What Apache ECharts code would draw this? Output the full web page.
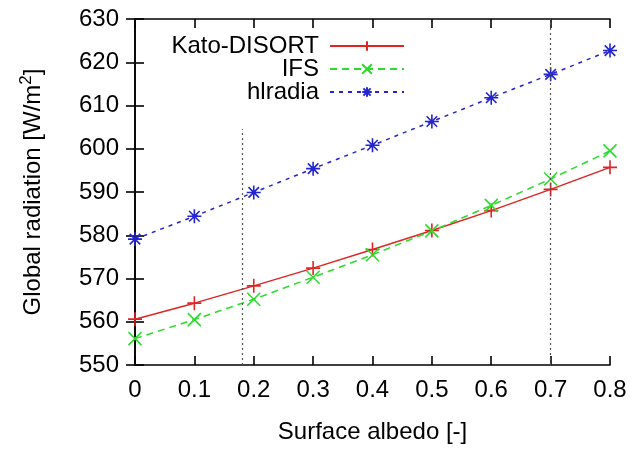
<!DOCTYPE html>
<html>
<head>
<meta charset="utf-8">
<script src="https://cdn.jsdelivr.net/npm/echarts@6/dist/echarts.min.js"></script>
<style>
  html, body { margin: 0; padding: 0; background: #fff; }
  #chart { width: 643px; height: 449px; }
</style>
</head>
<body>
<div id="chart"></div>
<script>
// Surface albedo values (x) and global radiation from three radiative transfer schemes
const albedo = [0, 0.1, 0.2, 0.3, 0.4, 0.5, 0.6, 0.7, 0.8];
const katoDisort = [560.6, 564.3, 568.3, 572.4, 576.7, 581.1, 585.7, 590.6, 595.7];
const ifs = [556.1, 560.5, 565.2, 570.3, 575.5, 581.0, 586.9, 593.0, 599.5];
const hlradia = [579.1, 584.4, 589.9, 595.4, 600.8, 606.3, 611.8, 617.2, 622.7];

const seriesNames = ['Kato-DISORT', 'IFS', 'hlradia'];
const xTicks = { min: 0, max: 0.8, step: 0.1 };
const yTicks = { min: 550, max: 630, step: 10 };

// reference albedo markers (dotted vertical lines)
const refLines = [
  { x: 0.18, from: 550, to: 604.5 },
  { x: 0.7, from: 550, to: 630 }
];

const FONT = 'Liberation Sans, Arial, sans-serif';

// stroke-only marker shapes
const plusPath = 'path://M0,-10L0,10M-10,0L10,0';
const crossPath = 'path://M-10,-10L10,10M-10,10L10,-10';
const starPath = 'path://M0,-10L0,10M-10,0L10,0M-7.5,-7.5L7.5,7.5M-7.5,7.5L7.5,-7.5';

function pairs(ys) {
  return albedo.map((x, i) => [x, ys[i]]);
}

function makeSeries(name, ys, color, type, symbol, size) {
  return {
    name: name,
    type: 'line',
    data: pairs(ys),
    symbol: symbol,
    symbolSize: size,
    showAllSymbol: true,
    lineStyle: { color: color, width: 1.5, type: type },
    itemStyle: { color: 'rgba(0,0,0,0)', borderColor: color, borderWidth: 1.6 },
    emphasis: { disabled: true },
    animation: false,
    z: 3
  };
}

const chart = echarts.init(document.getElementById('chart'), null, { renderer: 'canvas' });

const axisLine = { show: true, lineStyle: { color: '#000', width: 1.6 } };
const axisTick = { show: true, inside: true, length: 9, lineStyle: { color: '#000', width: 1.6 } };

const option = {
  backgroundColor: '#fff',
  animation: false,
  grid: { left: 135, right: 33, top: 19, bottom: 81, containLabel: false },
  legend: {
    data: seriesNames,
    orient: 'vertical',
    align: 'right',
    right: 643 - 410,
    top: 29,
    itemWidth: 74,
    itemHeight: 12,
    itemGap: -1,
    textStyle: { fontFamily: FONT, fontSize: 24, lineHeight: 24, color: '#000', padding: [0, 6, 0, 0] },
    selectedMode: false
  },
  xAxis: [
    {
      type: 'value',
      min: xTicks.min, max: xTicks.max, interval: xTicks.step,
      position: 'bottom',
      axisLine: axisLine, axisTick: axisTick,
      splitLine: { show: false },
      axisLabel: {
        fontFamily: FONT, fontSize: 24, color: '#000', margin: 13,
        formatter: v => (Math.round(v * 10) / 10).toString()
      },
      name: 'Surface albedo [-]',
      nameLocation: 'middle',
      nameGap: 55,
      nameTextStyle: { fontFamily: FONT, fontSize: 24, color: '#000' }
    },
    {
      type: 'value',
      min: xTicks.min, max: xTicks.max, interval: xTicks.step,
      position: 'top',
      axisLine: axisLine, axisTick: axisTick,
      splitLine: { show: false },
      axisLabel: { show: false }
    }
  ],
  yAxis: [
    {
      type: 'value',
      min: yTicks.min, max: yTicks.max, interval: yTicks.step,
      position: 'left',
      axisLine: axisLine, axisTick: axisTick,
      splitLine: { show: false },
      axisLabel: { fontFamily: FONT, fontSize: 24, color: '#000', margin: 16 },
      name: '{t|Global radiation [W/m}{s|2}{t|]}',
      nameLocation: 'middle',
      nameGap: 86,
      nameRotate: 90,
      nameTextStyle: {
        color: '#000',
        rich: {
          t: { fontFamily: FONT, fontSize: 24, color: '#000' },
          s: { fontFamily: FONT, fontSize: 17, color: '#000', padding: [0, 0, 14, 0] }
        }
      }
    },
    {
      type: 'value',
      min: yTicks.min, max: yTicks.max, interval: yTicks.step,
      position: 'right',
      axisLine: axisLine, axisTick: axisTick,
      splitLine: { show: false },
      axisLabel: { show: false }
    }
  ],
  series: [
    makeSeries(seriesNames[0], katoDisort, '#e02424', 'solid', plusPath, 14),
    makeSeries(seriesNames[1], ifs, '#2cdc2c', [7, 5], crossPath, 13),
    makeSeries(seriesNames[2], hlradia, '#2424d0', [4, 5], starPath, 14),
    {
      type: 'line',
      data: [],
      silent: true,
      markLine: {
        silent: true,
        symbol: ['none', 'none'],
        label: { show: false },
        lineStyle: { color: '#555', width: 1.2, type: [2, 3] },
        data: refLines.map(r => [
          { coord: [r.x, r.from] },
          { coord: [r.x, r.to] }
        ])
      },
      z: 1
    }
  ]
};

chart.setOption(option);
</script>
</body>
</html>
